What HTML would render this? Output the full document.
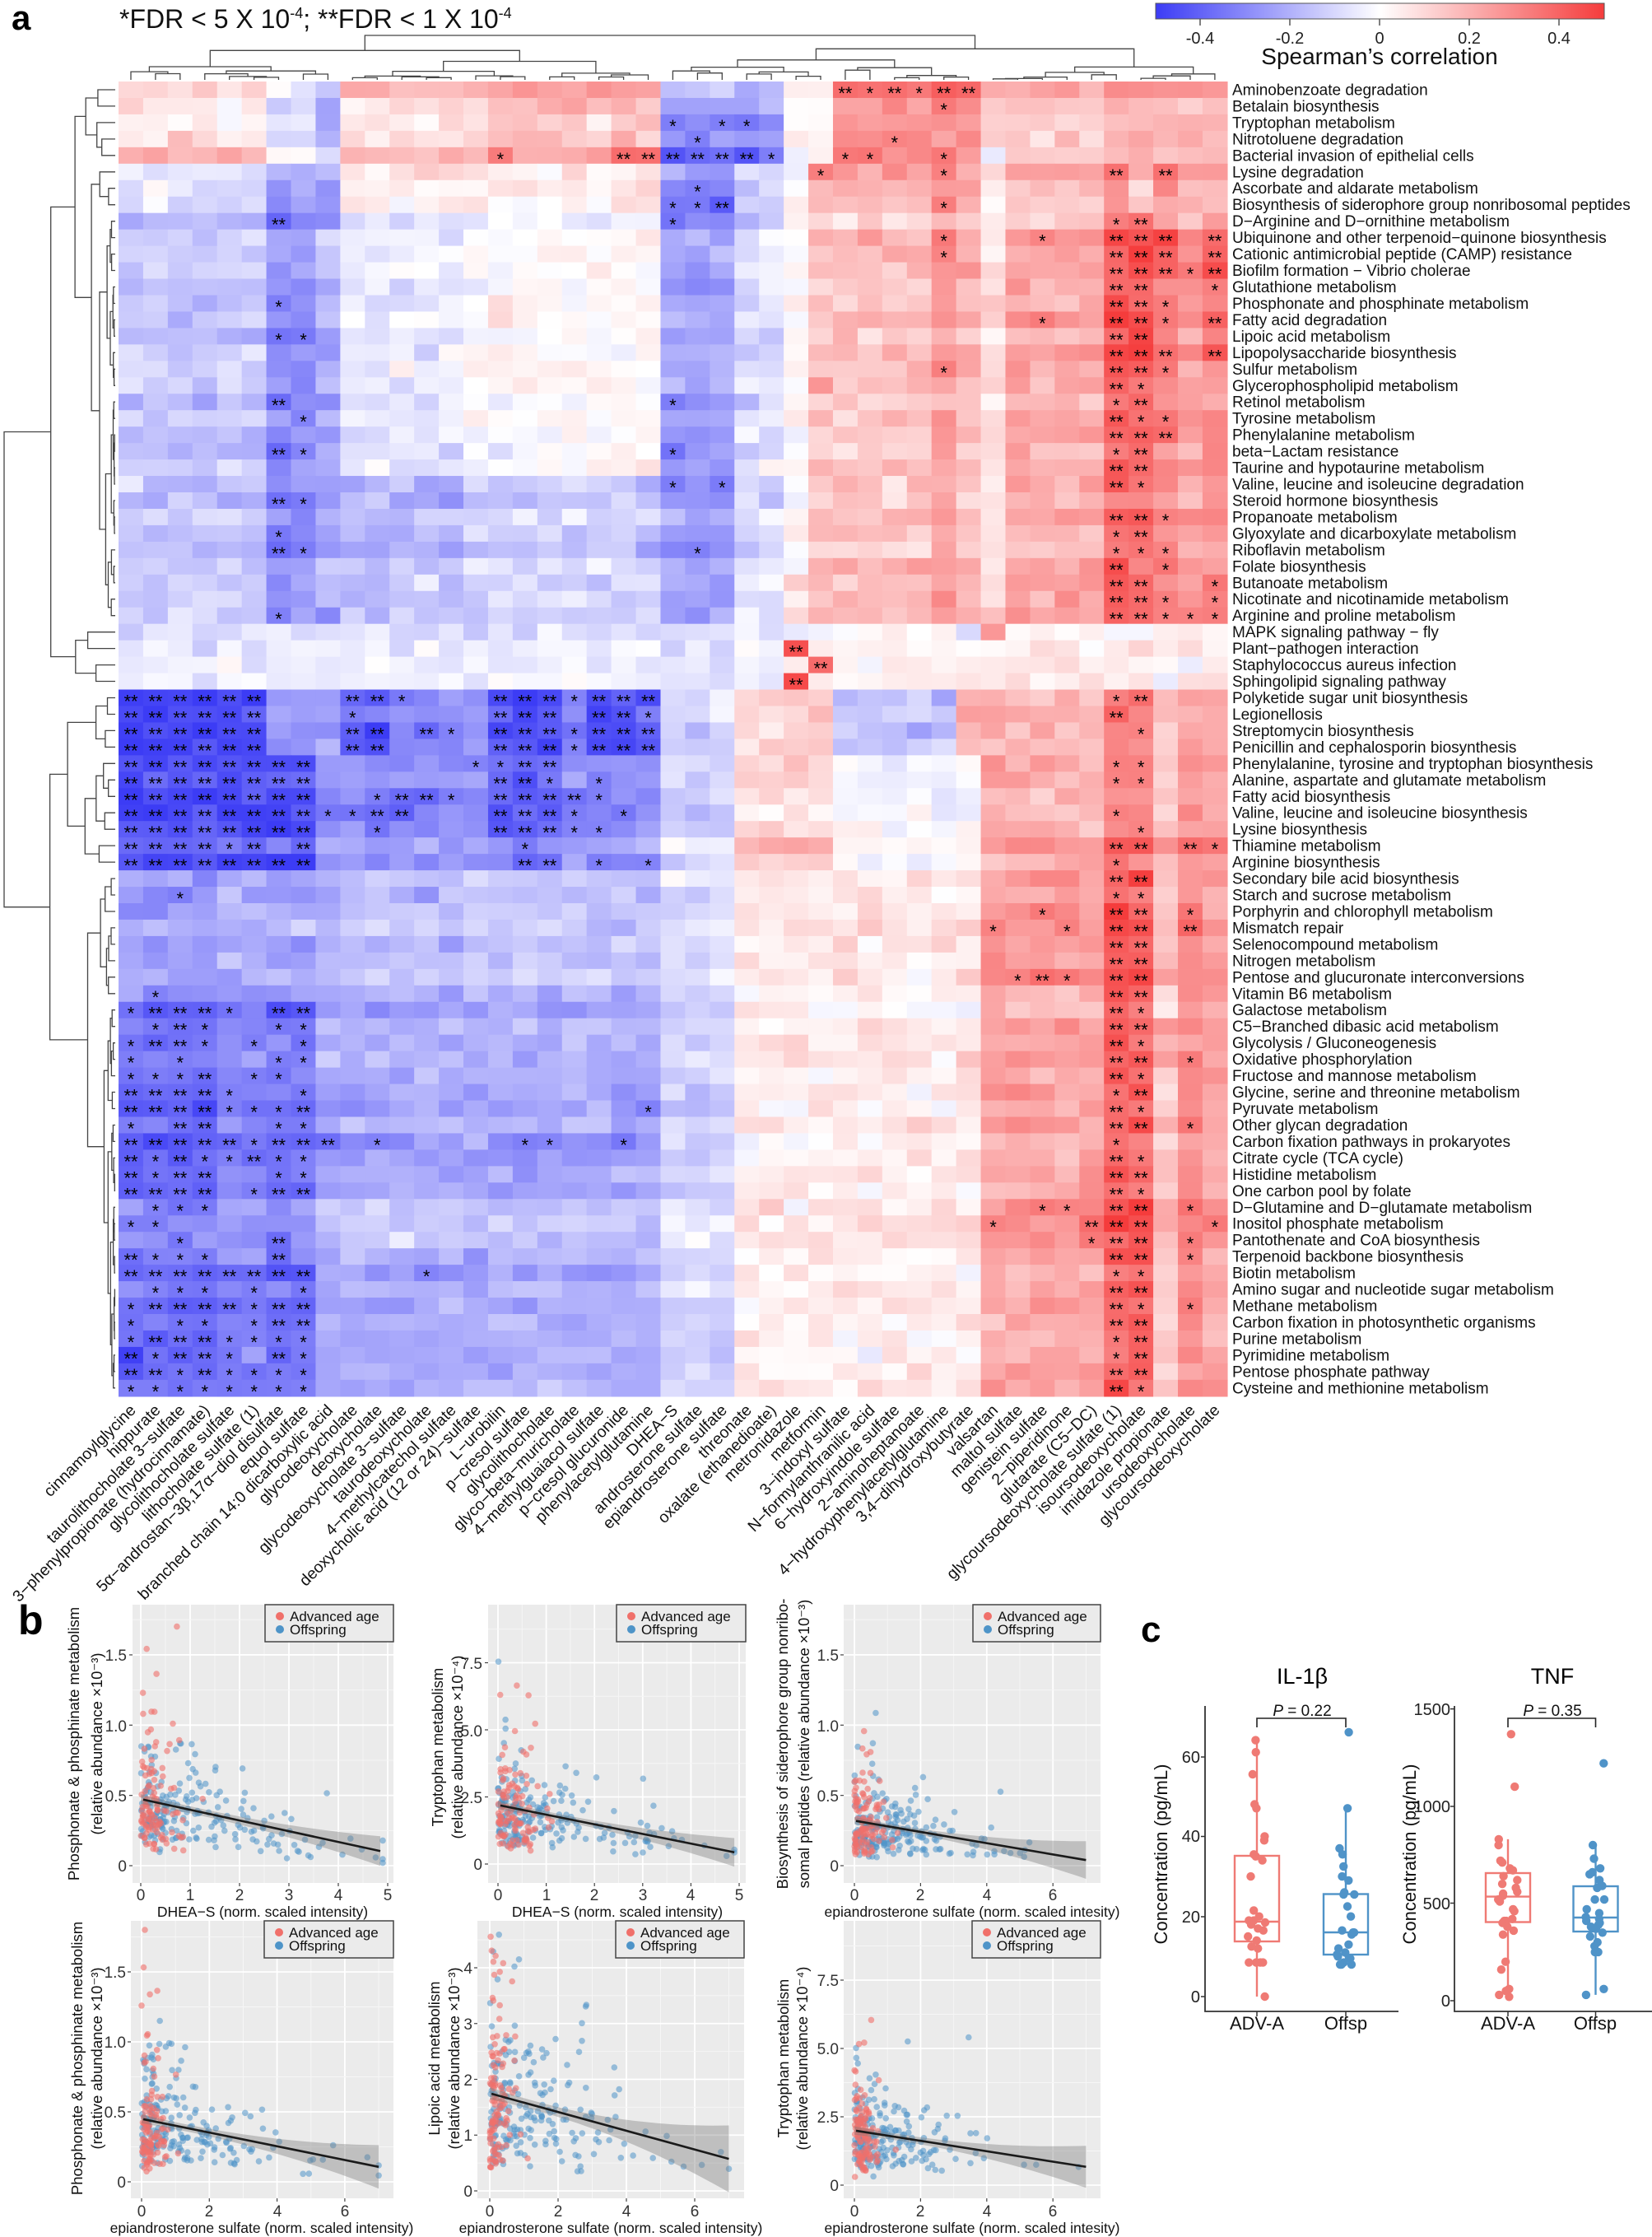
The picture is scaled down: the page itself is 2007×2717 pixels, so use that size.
<!DOCTYPE html>
<html><head><meta charset="utf-8">
<style>
html,body{margin:0;padding:0;background:#fff;}
svg{display:block;font-family:"Liberation Sans",Arial,sans-serif;}
</style></head>
<body>
<svg id="s" width="2007" height="2717" viewBox="0 0 2007 2717" xmlns="http://www.w3.org/2000/svg">
<defs>
<linearGradient id="cb" x1="0" x2="1" y1="0" y2="0">
<stop offset="0" stop-color="rgb(60,60,245)"/><stop offset="0.5" stop-color="#ffffff"/><stop offset="1" stop-color="rgb(245,60,60)"/>
</linearGradient>
</defs>
<rect width="2007" height="2717" fill="#fff"/>
<text x="14" y="36" font-size="42" font-weight="bold">a</text>
<text x="145" y="34" font-size="32" fill="#111">*FDR &lt; 5 X 10<tspan font-size="18" dy="-12">-4</tspan><tspan dy="12">; **FDR &lt; 1 X 10</tspan><tspan font-size="18" dy="-12">-4</tspan></text>
<rect x="1404" y="4" width="545" height="19" fill="url(#cb)" stroke="#555" stroke-width="1"/>
<g stroke="#555" stroke-width="1.5"><line x1="1458" y1="23" x2="1458" y2="31"/><line x1="1567" y1="23" x2="1567" y2="31"/><line x1="1676" y1="23" x2="1676" y2="31"/><line x1="1785" y1="23" x2="1785" y2="31"/><line x1="1894" y1="23" x2="1894" y2="31"/></g>
<g font-size="20" text-anchor="middle" fill="#222"><text x="1458" y="53">-0.4</text><text x="1567" y="53">-0.2</text><text x="1676" y="53">0</text><text x="1785" y="53">0.2</text><text x="1894" y="53">0.4</text></g>
<text x="1676" y="78" font-size="28" text-anchor="middle" fill="#111">Spearman’s correlation</text>

<g id="hm"></g>
<g id="stars" font-size="22" text-anchor="middle" fill="#000"></g>
<g id="dendro" stroke="#444" stroke-width="1.3" fill="none"></g>

<g id="rl" font-size="19" fill="#111">
<text>Aminobenzoate degradation</text>
<text>Betalain biosynthesis</text>
<text>Tryptophan metabolism</text>
<text>Nitrotoluene degradation</text>
<text>Bacterial invasion of epithelial cells</text>
<text>Lysine degradation</text>
<text>Ascorbate and aldarate metabolism</text>
<text>Biosynthesis of siderophore group nonribosomal peptides</text>
<text>D−Arginine and D−ornithine metabolism</text>
<text>Ubiquinone and other terpenoid−quinone biosynthesis</text>
<text>Cationic antimicrobial peptide (CAMP) resistance</text>
<text>Biofilm formation − Vibrio cholerae</text>
<text>Glutathione metabolism</text>
<text>Phosphonate and phosphinate metabolism</text>
<text>Fatty acid degradation</text>
<text>Lipoic acid metabolism</text>
<text>Lipopolysaccharide biosynthesis</text>
<text>Sulfur metabolism</text>
<text>Glycerophospholipid metabolism</text>
<text>Retinol metabolism</text>
<text>Tyrosine metabolism</text>
<text>Phenylalanine metabolism</text>
<text>beta−Lactam resistance</text>
<text>Taurine and hypotaurine metabolism</text>
<text>Valine, leucine and isoleucine degradation</text>
<text>Steroid hormone biosynthesis</text>
<text>Propanoate metabolism</text>
<text>Glyoxylate and dicarboxylate metabolism</text>
<text>Riboflavin metabolism</text>
<text>Folate biosynthesis</text>
<text>Butanoate metabolism</text>
<text>Nicotinate and nicotinamide metabolism</text>
<text>Arginine and proline metabolism</text>
<text>MAPK signaling pathway − fly</text>
<text>Plant−pathogen interaction</text>
<text>Staphylococcus aureus infection</text>
<text>Sphingolipid signaling pathway</text>
<text>Polyketide sugar unit biosynthesis</text>
<text>Legionellosis</text>
<text>Streptomycin biosynthesis</text>
<text>Penicillin and cephalosporin biosynthesis</text>
<text>Phenylalanine, tyrosine and tryptophan biosynthesis</text>
<text>Alanine, aspartate and glutamate metabolism</text>
<text>Fatty acid biosynthesis</text>
<text>Valine, leucine and isoleucine biosynthesis</text>
<text>Lysine biosynthesis</text>
<text>Thiamine metabolism</text>
<text>Arginine biosynthesis</text>
<text>Secondary bile acid biosynthesis</text>
<text>Starch and sucrose metabolism</text>
<text>Porphyrin and chlorophyll metabolism</text>
<text>Mismatch repair</text>
<text>Selenocompound metabolism</text>
<text>Nitrogen metabolism</text>
<text>Pentose and glucuronate interconversions</text>
<text>Vitamin B6 metabolism</text>
<text>Galactose metabolism</text>
<text>C5−Branched dibasic acid metabolism</text>
<text>Glycolysis / Gluconeogenesis</text>
<text>Oxidative phosphorylation</text>
<text>Fructose and mannose metabolism</text>
<text>Glycine, serine and threonine metabolism</text>
<text>Pyruvate metabolism</text>
<text>Other glycan degradation</text>
<text>Carbon fixation pathways in prokaryotes</text>
<text>Citrate cycle (TCA cycle)</text>
<text>Histidine metabolism</text>
<text>One carbon pool by folate</text>
<text>D−Glutamine and D−glutamate metabolism</text>
<text>Inositol phosphate metabolism</text>
<text>Pantothenate and CoA biosynthesis</text>
<text>Terpenoid backbone biosynthesis</text>
<text>Biotin metabolism</text>
<text>Amino sugar and nucleotide sugar metabolism</text>
<text>Methane metabolism</text>
<text>Carbon fixation in photosynthetic organisms</text>
<text>Purine metabolism</text>
<text>Pyrimidine metabolism</text>
<text>Pentose phosphate pathway</text>
<text>Cysteine and methionine metabolism</text>
</g>

<g id="cl" font-size="19.5" fill="#111" text-anchor="end">
<text>cinnamoylglycine</text>
<text>hippurate</text>
<text>taurolithocholate 3−sulfate</text>
<text>3−phenylpropionate (hydrocinnamate)</text>
<text>glycolithocholate sulfate</text>
<text>lithocholate sulfate (1)</text>
<text>5α−androstan−3β,17α−diol disulfate</text>
<text>equol sulfate</text>
<text>branched chain 14:0 dicarboxylic acid</text>
<text>glycodeoxycholate</text>
<text>deoxycholate</text>
<text>glycodeoxycholate 3−sulfate</text>
<text>taurodeoxycholate</text>
<text>4−methylcatechol sulfate</text>
<text>deoxycholic acid (12 or 24)−sulfate</text>
<text>L−urobilin</text>
<text>p−cresol sulfate</text>
<text>glycolithocholate</text>
<text>glyco−beta−muricholate</text>
<text>4−methylguaiacol sulfate</text>
<text>p−cresol glucuronide</text>
<text>phenylacetylglutamine</text>
<text>DHEA−S</text>
<text>androsterone sulfate</text>
<text>epiandrosterone sulfate</text>
<text>threonate</text>
<text>oxalate (ethanedioate)</text>
<text>metronidazole</text>
<text>metformin</text>
<text>3−indoxyl sulfate</text>
<text>N−formylanthranilic acid</text>
<text>6−hydroxyindole sulfate</text>
<text>2−aminoheptanoate</text>
<text>4−hydroxyphenylacetylglutamine</text>
<text>3,4−dihydroxybutyrate</text>
<text>valsartan</text>
<text>maltol sulfate</text>
<text>genistein sulfate</text>
<text>2−piperidinone</text>
<text>glutarate (C5−DC)</text>
<text>glycoursodeoxycholate sulfate (1)</text>
<text>isoursodeoxycholate</text>
<text>imidazole propionate</text>
<text>ursodeoxycholate</text>
<text>glycoursodeoxycholate</text>
</g>

<text x="22" y="1985" font-size="50" font-weight="bold">b</text>
<g id="scat"></g>
<g font-size="19" fill="#333" text-anchor="middle">
<text x="171" y="2308">0</text><text x="231" y="2308">1</text><text x="291" y="2308">2</text><text x="351" y="2308">3</text><text x="411" y="2308">4</text><text x="471" y="2308">5</text>
<text x="605" y="2308">0</text><text x="664" y="2308">1</text><text x="722" y="2308">2</text><text x="781" y="2308">3</text><text x="839" y="2308">4</text><text x="898" y="2308">5</text>
<text x="1038" y="2308">0</text><text x="1118" y="2308">2</text><text x="1199" y="2308">4</text><text x="1279" y="2308">6</text>
<text x="172" y="2692">0</text><text x="254" y="2692">2</text><text x="337" y="2692">4</text><text x="419" y="2692">6</text>
<text x="595" y="2692">0</text><text x="678" y="2692">2</text><text x="761" y="2692">4</text><text x="844" y="2692">6</text>
<text x="1038" y="2692">0</text><text x="1118" y="2692">2</text><text x="1199" y="2692">4</text><text x="1279" y="2692">6</text>
</g>
<g font-size="19" fill="#333" text-anchor="end">
<text x="154" y="2017">1.5</text><text x="154" y="2103">1.0</text><text x="154" y="2188">0.5</text><text x="154" y="2273">0</text>
<text x="586" y="2027">7.5</text><text x="586" y="2109">5.0</text><text x="586" y="2190">2.5</text><text x="586" y="2271">0</text>
<text x="1019" y="2017">1.5</text><text x="1019" y="2103">1.0</text><text x="1019" y="2188">0.5</text><text x="1019" y="2273">0</text>
<text x="153" y="2402">1.5</text><text x="153" y="2487">1.0</text><text x="153" y="2572">0.5</text><text x="153" y="2657">0</text>
<text x="574" y="2397">4</text><text x="574" y="2465">3</text><text x="574" y="2533">2</text><text x="574" y="2600">1</text><text x="574" y="2668">0</text>
<text x="1019" y="2412">7.5</text><text x="1019" y="2495">5.0</text><text x="1019" y="2578">2.5</text><text x="1019" y="2661">0</text>
</g>
<g font-size="17.5" fill="#111" text-anchor="middle">
<text x="319" y="2328">DHEA−S (norm. scaled intensity)</text>
<text x="750" y="2328">DHEA−S (norm. scaled intensity)</text>
<text x="1181" y="2328">epiandrosterone sulfate (norm. scaled intesity)</text>
<text x="318" y="2712">epiandrosterone sulfate (norm. scaled intensity)</text>
<text x="742" y="2712">epiandrosterone sulfate (norm. scaled intensity)</text>
<text x="1181" y="2712">epiandrosterone sulfate (norm. scaled intesity)</text>
</g>
<g font-size="18.5" fill="#111" text-anchor="middle">
<text transform="translate(96,2118) rotate(-90)">Phosphonate &amp; phosphinate metabolism</text>
<text transform="translate(124,2118) rotate(-90)">(relative abundance ×10⁻³)</text>
<text transform="translate(538,2122) rotate(-90)">Tryptophan metabolism</text>
<text transform="translate(562,2122) rotate(-90)">(relative abundance ×10⁻⁴)</text>
<text transform="translate(957,2118) rotate(-90)">Biosynthesis of siderophore group nonribo-</text>
<text transform="translate(983,2118) rotate(-90)">somal peptides (relative abundance ×10⁻³)</text>
<text transform="translate(100,2500) rotate(-90)">Phosphonate &amp; phosphinate metabolism</text>
<text transform="translate(124,2500) rotate(-90)">(relative abundance ×10⁻³)</text>
<text transform="translate(534,2500) rotate(-90)">Lipoic acid metabolism</text>
<text transform="translate(558,2500) rotate(-90)">(relative abundance ×10⁻³)</text>
<text transform="translate(958,2500) rotate(-90)">Tryptophan metabolism</text>
<text transform="translate(981,2500) rotate(-90)">(relative abundance ×10⁻⁴)</text>
</g>
<g id="legends"></g>
<g font-size="17" fill="#111">
<text x="352" y="1969">Advanced age</text><text x="352" y="1985">Offspring</text>
<text x="779" y="1969">Advanced age</text><text x="779" y="1985">Offspring</text>
<text x="1212" y="1969">Advanced age</text><text x="1212" y="1985">Offspring</text>
<text x="351" y="2353">Advanced age</text><text x="351" y="2369">Offspring</text>
<text x="778" y="2353">Advanced age</text><text x="778" y="2369">Offspring</text>
<text x="1211" y="2353">Advanced age</text><text x="1211" y="2369">Offspring</text>
</g>

<text x="1386" y="1994" font-size="44" font-weight="bold">c</text>
<text x="1582" y="2045" font-size="27" text-anchor="middle">IL-1β</text>
<text x="1886" y="2045" font-size="27" text-anchor="middle">TNF</text>
<g id="pc"></g>
<g font-size="19" text-anchor="middle" fill="#111">
<text x="1582" y="2084"><tspan font-style="italic">P</tspan> = 0.22</text>
<text x="1886" y="2084"><tspan font-style="italic">P</tspan> = 0.35</text>
</g>
<g font-size="20" text-anchor="end" fill="#222">
<text x="1458" y="2141">60</text><text x="1458" y="2237">40</text><text x="1458" y="2335">20</text><text x="1458" y="2432">0</text>
<text x="1762" y="2083">1500</text><text x="1762" y="2201">1000</text><text x="1762" y="2319">500</text><text x="1762" y="2437">0</text>
</g>
<g font-size="22" text-anchor="middle" fill="#111">
<text x="1527" y="2465">ADV-A</text><text x="1635" y="2465">Offsp</text>
<text x="1832" y="2465">ADV-A</text><text x="1938" y="2465">Offsp</text>
</g>
<g font-size="22" text-anchor="middle" fill="#111">
<text transform="translate(1418,2252) rotate(-90)">Concentration (pg/mL)</text>
<text transform="translate(1720,2252) rotate(-90)">Concentration (pg/mL)</text>
</g>
</svg>
<script>
(function(){
const NS='http://www.w3.org/2000/svg';
function el(t,a,p){const e=document.createElementNS(NS,t);for(const k in a)e.setAttribute(k,a[k]);if(p)p.appendChild(e);return e;}
function rng(seed){return function(){seed|=0;seed=seed+0x6D2B79F5|0;let t=Math.imul(seed^seed>>>15,1|seed);t=t+Math.imul(t^t>>>7,61|t)^t;return((t^t>>>14)>>>0)/4294967296;}}
function gauss(r){let u=r()||1e-9,v=r();return Math.sqrt(-2*Math.log(u))*Math.cos(2*Math.PI*v);}
const X0=144,Y0=99,CW=29.93,CH=19.96,NR=80,NC=45;
const rl=document.getElementById('rl').children;
for(let i=0;i<rl.length;i++){rl[i].setAttribute('x',1497);rl[i].setAttribute('y',(Y0+(i+0.5)*CH+6.5).toFixed(1));}
const cl=document.getElementById('cl').children;
for(let i=0;i<cl.length;i++){const cx=X0+(i+0.5)*CW;cl[i].setAttribute('transform','translate('+(cx+7).toFixed(1)+',1714) rotate(-45)');}
function expand(spec){const a=[];let c=1;for(const [e,v] of spec){while(c<=e){a[c]=v;c++;}}return a;}
const G={
R1:expand([[6,0.06],[8,-0.08],[9,-0.18],[15,0.1],[22,0.17],[27,-0.25],[29,0.02],[35,0.3],[40,0.15],[42,0.22],[45,0.18]]),
R1b:expand([[6,0.2],[8,0.02],[9,-0.1],[15,0.18],[22,0.24],[27,-0.4],[29,0.02],[35,0.33],[36,-0.08],[45,0.16]]),
R2:expand([[6,-0.08],[9,-0.22],[22,0.05],[25,-0.28],[27,-0.12],[28,0],[33,0.22],[34,0.3],[35,0.22],[36,0.05],[40,0.2],[41,0.3],[42,0.15],[43,0.3],[45,0.2]]),
R3:expand([[6,-0.15],[8,-0.3],[9,-0.22],[14,-0.06],[22,0.0],[25,-0.26],[27,-0.1],[28,0.0],[33,0.15],[34,0.22],[35,0.15],[36,0.08],[40,0.2],[42,0.38],[43,0.3],[44,0.22],[45,0.3]]),
R4:expand([[27,-0.05],[29,0.02],[45,0.04]]),
R5:expand([[6,-0.46],[9,-0.24],[11,-0.38],[13,-0.3],[15,-0.28],[18,-0.45],[19,-0.3],[22,-0.43],[25,-0.08],[29,0.12],[34,-0.13],[40,0.2],[42,0.32],[43,0.12],[45,0.25]]),
R6:expand([[8,-0.45],[9,-0.32],[15,-0.3],[18,-0.38],[22,-0.3],[25,-0.1],[29,0.1],[35,-0.02],[40,0.18],[42,0.33],[43,0.12],[45,0.24]]),
R7:expand([[4,-0.36],[6,-0.31],[8,-0.34],[9,-0.22],[22,-0.2],[25,-0.1],[35,0.05],[40,0.24],[42,0.4],[43,0.15],[44,0.3],[45,0.24]])
};
const r=rng(7);
function mean(i,c){
 if(i<=4)return G.R1[c]; if(i==5){if(c==16||c==21||c==22)return 0.34;return G.R1b[c];}
 if(i<=8){let v=G.R2[c];if(i==8&&c>=23&&c<=25)v-=0.06;return v;}
 if(i<=33){let v=G.R3[c];if(i>=25&&c>=10&&c<=22)v-=0.12;if(i>=10&&i<=17&&c>=41&&c<=45)v+=0.05;return v;}
 if(i<=37){if(i==35&&c==28)return 0.42;if(i==37&&c==28)return 0.42;if(i==36&&c==29)return 0.34;if(i==34&&c==36)return 0.33;return G.R4[c];}
 if(i<=41)return G.R5[c];
 if(i<=48)return G.R6[c];
 let v=G.R7[c]; if(i<=56&&c<=8)v+=0.09; if(i<=56&&c>=10&&c<=22)v+=0.03; return v;
}
function col(v){let t=Math.max(-1,Math.min(1,v/0.5));let a=Math.abs(t);
 if(t<0)return 'rgb('+Math.round(255-195*a)+','+Math.round(255-195*a)+','+Math.round(255-10*a)+')';
 return 'rgb('+Math.round(255-10*a)+','+Math.round(255-195*a)+','+Math.round(255-195*a)+')';}
const hm=document.getElementById('hm'),st=document.getElementById('stars');
const rowOff=[];for(let i=1;i<=NR;i++)rowOff[i]=gauss(r)*0.03;
for(let i=1;i<=NR;i++)for(let c=1;c<=NC;c++){
 let m=mean(i,c);let v=m+rowOff[i]*(Math.abs(m)>0.08?1:0.5)+gauss(r)*0.035;
 const x=X0+(c-1)*CW,y=Y0+(i-1)*CH;
 el('rect',{x:x.toFixed(2),y:y.toFixed(2),width:(CW+0.7).toFixed(2),height:(CH+0.7).toFixed(2),fill:col(v)},hm);
 let a=Math.abs(v),s='';
 if(a>0.365)s='**';else if(a>0.315)s='*';
 if(s){const t=el('text',{x:(x+CW/2).toFixed(1),y:(y+CH/2+12).toFixed(1)},st);t.textContent=s;}
}
const dg=document.getElementById('dendro');
function tree(lo,hi,H,splits,R,draw){
 if(lo==hi)return {p:lo,h:0};
 let s=splits[lo+'-'+hi];
 if(s===undefined)s=lo+Math.floor((hi-lo)*(0.25+0.5*R()));
 if(s<lo)s=lo;if(s>=hi)s=hi-1;
 const hl=(lo==s)?0:H*(0.35+0.45*R()), hr=(s+1==hi)?0:H*(0.35+0.45*R());
 const L=tree(lo,s,hl,splits,R,draw),Rt=tree(s+1,hi,hr,splits,R,draw);
 draw(L,Rt,H);return {p:(L.p+Rt.p)/2,h:H};
}
const R2=rng(11);
tree(1,80,135,{'1-80':37,'1-37':33,'1-33':5,'6-33':8,'38-80':48,'38-48':41,'49-80':56,'34-37':35},R2,function(L,Rt,H){
 const xH=140-H,yl=Y0+(L.p-0.5)*CH,yr=Y0+(Rt.p-0.5)*CH;
 el('path',{d:'M'+(140-L.h).toFixed(1)+','+yl.toFixed(1)+'H'+xH.toFixed(1)+'V'+yr.toFixed(1)+'H'+(140-Rt.h).toFixed(1)},dg);
});
const R3=rng(5);
tree(1,45,54,{'1-45':22,'1-22':9,'23-45':35,'23-35':29},R3,function(L,Rt,H){
 const yH=97-H,xl=X0+(L.p-0.5)*CW,xr=X0+(Rt.p-0.5)*CW;
 el('path',{d:'M'+xl.toFixed(1)+','+(97-L.h).toFixed(1)+'V'+yH.toFixed(1)+'H'+xr.toFixed(1)+'V'+(97-Rt.h).toFixed(1)},dg);
});
const sc=document.getElementById('scat'),lg=document.getElementById('legends');
const RED='rgba(240,112,106,0.6)',BLUE='rgba(78,148,200,0.55)';
function panel(o,seed){
 const R=rng(seed);
 el('rect',{x:o.x0,y:o.y0,width:o.x1-o.x0,height:o.y1-o.y0,fill:'#ebebeb'},sc);
 const px=v=>o.xm[0]+o.xm[1]*v, py=v=>o.ym[0]+o.ym[1]*v;
 const xs=o.xt,ys=o.yt,dx=xs[1]-xs[0],dy=ys[1]-ys[0];
 for(let v=xs[0]-dx/2;v<=xs[xs.length-1]+dx;v+=dx/2){const X=px(v);if(X<=o.x0||X>=o.x1)continue;const maj=Math.abs((v-xs[0])/dx-Math.round((v-xs[0])/dx))<1e-6;el('line',{x1:X,y1:o.y0,x2:X,y2:o.y1,stroke:maj?'#fff':'#f6f6f6','stroke-width':maj?1.8:1},sc);}
 for(let v=ys[0]-dy/2;v<=ys[ys.length-1]+dy;v+=dy/2){const Y=py(v);if(Y<=o.y0||Y>=o.y1)continue;const maj=Math.abs((v-ys[0])/dy-Math.round((v-ys[0])/dy))<1e-6;el('line',{x1:o.x0,y1:Y,x2:o.x1,y2:Y,stroke:maj?'#fff':'#f6f6f6','stroke-width':maj?1.8:1},sc);}
 xs.forEach(v=>el('line',{x1:px(v),y1:o.y1,x2:px(v),y2:o.y1+4,stroke:'#444','stroke-width':1.2},sc));
 ys.forEach(v=>el('line',{x1:o.x0-4,y1:py(v),x2:o.x0,y2:py(v),stroke:'#444','stroke-width':1.2},sc));
 const line=x=>o.a+o.b*x;
 function pt(x,y,c){x=Math.max(0,Math.min(o.xmax,x));y=Math.max(o.ymin,Math.min(o.ymax,y));el('circle',{cx:px(x).toFixed(1),cy:py(y).toFixed(1),r:3.8,fill:c},sc);}
 for(let k=0;k<o.nb;k++){let x=-Math.log(R()||1e-6)*o.xmean;let y=line(Math.min(x,o.xmax))*Math.exp(gauss(R)*0.5)*0.9;pt(x,y,BLUE);}
 for(let k=0;k<o.nr;k++){let x=Math.abs(gauss(R))*o.xr;let y=line(x)*Math.exp(gauss(R)*0.55)*0.9;pt(x,y,RED);}
 let top=[],bot=[];const xe=o.xe,xbar=o.xbar;
 for(let i=0;i<=30;i++){const x=xe*i/30;const hw=o.c0+o.c1*(x-xbar)*(x-xbar);top.push(px(x).toFixed(1)+','+py(line(x)+hw).toFixed(1));bot.unshift(px(x).toFixed(1)+','+py(line(x)-hw).toFixed(1));}
 el('polygon',{points:top.concat(bot).join(' '),fill:'rgba(120,120,120,0.38)'},sc);
 el('line',{x1:px(0.05),y1:py(line(0.05)),x2:px(xe),y2:py(line(xe)),stroke:'#1a1a1a','stroke-width':2.6},sc);
 el('rect',{x:o.lx,y:o.y0,width:o.x1-o.lx,height:45,fill:'#ebebeb',stroke:'#444','stroke-width':1.5},lg);
 el('circle',{cx:o.lx+18,cy:o.y0+14,r:5,fill:'#f0706a'},lg);
 el('circle',{cx:o.lx+18,cy:o.y0+30,r:5,fill:'#4e94c8'},lg);
}
panel({x0:161,x1:478,y0:1949,y1:2287,xm:[171,60],ym:[2266,-170.7],xt:[0,1,2,3,4,5],yt:[0,0.5,1,1.5],a:0.474,b:-0.0763,xmax:4.9,ymin:0.02,ymax:1.8,nb:200,nr:110,xmean:1.2,xr:0.45,xe:4.85,xbar:1.2,c0:0.025,c1:0.006,lx:322},3);
panel({x0:593,x1:906,y0:1949,y1:2287,xm:[605,58.6],ym:[2264,-32.6],xt:[0,1,2,3,4,5],yt:[0,2.5,5,7.5],a:2.2,b:-0.36,xmax:4.9,ymin:0.3,ymax:9.2,nb:200,nr:110,xmean:1.2,xr:0.45,xe:4.9,xbar:1.2,c0:0.12,c1:0.03,lx:749},4);
panel({x0:1025,x1:1337,y0:1949,y1:2287,xm:[1038,40.2],ym:[2266,-170.7],xt:[0,2,4,6],yt:[0,0.5,1,1.5],a:0.32,b:-0.04,xmax:7,ymin:0.02,ymax:1.75,nb:200,nr:110,xmean:1.3,xr:0.4,xe:7,xbar:1.3,c0:0.02,c1:0.0035,lx:1182},5);
panel({x0:159,x1:478,y0:2333,y1:2670,xm:[172,41.15],ym:[2650,-170],xt:[0,2,4,6],yt:[0,0.5,1,1.5],a:0.45,b:-0.049,xmax:7,ymin:0.02,ymax:1.8,nb:200,nr:110,xmean:1.3,xr:0.35,xe:7,xbar:1.3,c0:0.025,c1:0.004,lx:321},6);
panel({x0:580,x1:904,y0:2333,y1:2670,xm:[595,41.5],ym:[2661,-67.75],xt:[0,2,4,6],yt:[0,1,2,3,4],a:1.75,b:-0.168,xmax:7,ymin:0.08,ymax:4.6,nb:200,nr:110,xmean:1.3,xr:0.35,xe:7,xbar:1.3,c0:0.08,c1:0.016,lx:748},8);
panel({x0:1025,x1:1337,y0:2333,y1:2670,xm:[1038,40.2],ym:[2654,-33.2],xt:[0,2,4,6],yt:[0,2.5,5,7.5],a:2.0,b:-0.19,xmax:7,ymin:0.3,ymax:8.8,nb:200,nr:110,xmean:1.3,xr:0.35,xe:7,xbar:1.3,c0:0.12,c1:0.02,lx:1181},9);
const pc=document.getElementById('pc');
const CR='#ef7a74',CB='#4f93c8';
function axes(ax,xe,ticks){el('path',{d:'M'+ax+',2072V2443H'+xe,stroke:'#333','stroke-width':1.8,fill:'none'},pc);ticks.forEach(y=>el('line',{x1:ax-5,y1:y,x2:ax,y2:y,stroke:'#333','stroke-width':1.5},pc));}
axes(1464,1699,[2134,2230.5,2328,2425]);axes(1767,2007,[2075.6,2194,2311.5,2430]);
[1527,1635,1832,1938.5].forEach(x=>el('line',{x1:x,y1:2443,x2:x,y2:2449,stroke:'#333','stroke-width':1.5},pc));
el('path',{d:'M1527,2098V2087H1635V2098',stroke:'#222','stroke-width':1.6,fill:'none'},pc);
el('path',{d:'M1832,2098V2087H1938.5V2098',stroke:'#222','stroke-width':1.6,fill:'none'},pc);
function box(cx,c,wt,bt,bb,md,wb){el('line',{x1:cx,y1:wt,x2:cx,y2:bt,stroke:c,'stroke-width':2.4},pc);el('line',{x1:cx,y1:bb,x2:cx,y2:wb,stroke:c,'stroke-width':2.4},pc);el('rect',{x:cx-27,y:bt,width:54,height:bb-bt,fill:'none',stroke:c,'stroke-width':2.4},pc);el('line',{x1:cx-27,y1:md,x2:cx+27,y2:md,stroke:c,'stroke-width':2.4},pc);}
const il=v=>2425-4.865*v, tn=v=>2430-0.2363*v;
box(1527,CR,il(64),2254,2358,2334,il(0));
box(1635,CB,il(47),2300.5,2374,2347,il(8));
box(1832,CR,tn(830),2275,2334.5,2303.6,tn(30));
box(1938.5,CB,tn(800),2291,2346,2329,tn(30));
const Rc=rng(21);
function dots(cx,c,vals,f){vals.forEach(v=>el('circle',{cx:(cx+(Rc()-0.5)*24).toFixed(1),cy:f(v).toFixed(1),r:5.2,fill:c},pc));}
dots(1527,CR,[64,61,55.5,48,47,40,39,35.5,35,34,30,21.5,20,19,19,18.5,18,17,16.5,15,14,12.5,12,8.5,8.5,8.5,8.5,0],il);
dots(1635,CB,[66,47,37,35.5,32.5,30,29,26,25.5,25.5,22.5,20,16.5,16,16,15.5,13,12,11,10.5,10,9.5,8.5,8,8,8],il);
dots(1832,CR,[1370,1100,830,800,720,710,680,670,640,620,600,580,560,550,540,520,510,470,460,420,410,410,400,380,360,340,200,160,60,50,30,20],tn);
dots(1938.5,CB,[1220,800,730,680,660,650,620,590,580,520,520,470,450,430,420,410,400,390,380,370,350,330,300,280,250,250,60,30],tn);
})();
</script>
</body></html>
